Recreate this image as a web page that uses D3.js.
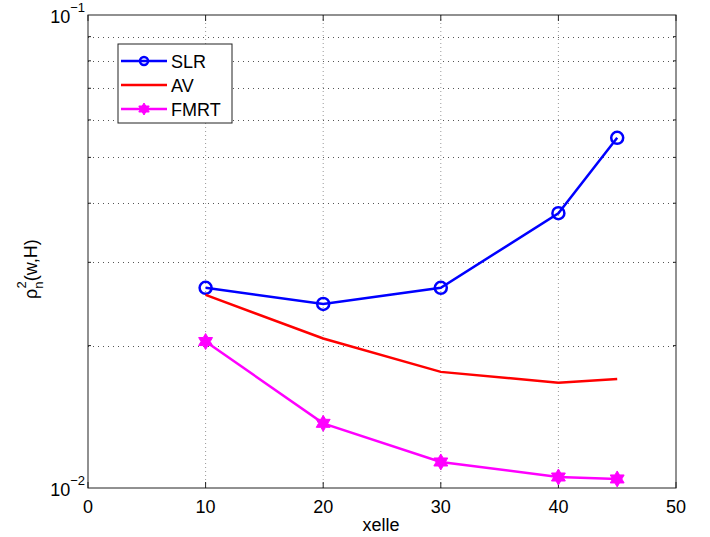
<!DOCTYPE html>
<html>
<head>
<meta charset="utf-8">
<script src="https://cdn.jsdelivr.net/npm/d3@7"></script>
<style>
  body { margin: 0; background: #fff; }
  text { font-family: "Liberation Sans", Arial, sans-serif; fill: #000; }
</style>
</head>
<body>
<div id="chart"></div>
<script>
// data
const xValues = [10, 20, 30, 40, 45];
const slr = [0.0265, 0.0245, 0.0265, 0.0381, 0.0550];
const av = [0.0256, 0.0207, 0.0176, 0.0167, 0.0170];
const fmrt = [0.0204, 0.0137, 0.01135, 0.01055, 0.01045];
const xTicks = [0, 10, 20, 30, 40, 50];
const yDecades = [0.01, 0.1];
const yMinor = [0.02, 0.03, 0.04, 0.05, 0.06, 0.07, 0.08, 0.09];

const W = 710, H = 537;
const margin = {top: 15, right: 34, bottom: 49, left: 88},
    width = W - margin.left - margin.right,
    height = H - margin.top - margin.bottom;

const svg = d3.select("#chart")
  .append("svg")
    .attr("width", W)
    .attr("height", H)
  .append("g")
    .attr("transform", "translate(" + margin.left + "," + margin.top + ")");

const x = d3.scaleLinear().domain([0, 50]).range([0, width]);
const y = d3.scaleLog().domain([0.01, 0.1]).range([height, 0]);

// grid
svg.selectAll(".gx").data(xTicks.slice(1, -1)).enter().append("line")
  .attr("x1", d => x(d)).attr("x2", d => x(d))
  .attr("y1", 0).attr("y2", height)
  .attr("stroke", "#999").attr("stroke-width", 1).attr("stroke-dasharray", "1,3");
svg.selectAll(".gy").data(yMinor).enter().append("line")
  .attr("x1", 0).attr("x2", width)
  .attr("y1", d => Math.round(y(d)) + 0.5).attr("y2", d => Math.round(y(d)) + 0.5)
  .attr("stroke", "#555").attr("stroke-width", 1).attr("stroke-dasharray", "1,4");

// frame
svg.append("rect")
  .attr("x", 0).attr("y", 0).attr("width", width).attr("height", height)
  .attr("fill", "none").attr("stroke", "#222").attr("stroke-width", 1);

// tick marks inside, all four sides
xTicks.forEach(t => {
  svg.append("line").attr("x1", x(t)).attr("x2", x(t)).attr("y1", height).attr("y2", height - 6).attr("stroke", "#222");
  svg.append("line").attr("x1", x(t)).attr("x2", x(t)).attr("y1", 0).attr("y2", 6).attr("stroke", "#222");
});
yMinor.forEach(t => {
  svg.append("line").attr("x1", 0).attr("x2", 3).attr("y1", y(t)).attr("y2", y(t)).attr("stroke", "#222");
  svg.append("line").attr("x1", width).attr("x2", width - 3).attr("y1", y(t)).attr("y2", y(t)).attr("stroke", "#222");
});

// tick labels
svg.selectAll(".xl").data(xTicks).enter().append("text")
  .attr("x", d => x(d)).attr("y", height + 25)
  .attr("text-anchor", "middle").style("font-size", "18px")
  .text(d => d);

yDecades.forEach(d => {
  const t = svg.append("text")
    .attr("x", -3).attr("y", y(d) + 8)
    .attr("text-anchor", "end").style("font-size", "18px");
  t.append("tspan").text("10");
  t.append("tspan").attr("dy", -11).style("font-size", "13px")
    .text("\u2212" + Math.round(-Math.log10(d)));
});

// axis labels
svg.append("text")
  .attr("x", width / 2 - 1).attr("y", height + 43)
  .attr("text-anchor", "middle").style("font-size", "18px")
  .text("xelle");

const yl = svg.append("text")
  .attr("transform", "translate(-51,284) rotate(-90)")
  .attr("text-anchor", "start").style("font-size", "18px");
yl.append("tspan").text("\u03c1");
yl.append("tspan").attr("dy", 6).style("font-size", "13px").text("n");
yl.append("tspan").attr("dx", -7).attr("dy", -17).style("font-size", "13px").text("2");
yl.append("tspan").attr("dy", 11).text("(w,H)");

// series
const line = d3.line().x(d => x(d[0])).y(d => y(d[1]));
const series = [
  {name: "SLR", values: slr, color: "#0000ff", marker: "circle"},
  {name: "AV", values: av, color: "#ff0000", marker: null},
  {name: "FMRT", values: fmrt, color: "#ff00ff", marker: "star"}
];

function hexagram(r) {
  const pts = [];
  for (let i = 0; i < 12; i++) {
    const a = -Math.PI / 2 + i * Math.PI / 6;
    const rr = i % 2 === 0 ? r : r * 0.58;
    pts.push([rr * Math.cos(a), rr * Math.sin(a)]);
  }
  return "M" + pts.map(p => p.join(",")).join("L") + "Z";
}

function drawMarker(g, s, cx, cy, r) {
  if (s.marker === "circle") {
    g.append("circle").attr("cx", cx).attr("cy", cy).attr("r", r)
      .attr("fill", "none").attr("stroke", s.color).attr("stroke-width", 2.5);
  } else if (s.marker === "star") {
    g.append("path").attr("d", hexagram(r + 2))
      .attr("transform", "translate(" + cx + "," + cy + ")")
      .attr("fill", s.color).attr("stroke", s.color).attr("stroke-width", 1);
  }
}

series.forEach(s => {
  const pts = xValues.map((v, i) => [v, s.values[i]]);
  svg.append("path").datum(pts)
    .attr("d", line).attr("fill", "none")
    .attr("stroke", s.color).attr("stroke-width", 2.5);
  pts.forEach(p => drawMarker(svg, s, x(p[0]), y(p[1]), 6));
});

// legend
const lg = svg.append("g").attr("transform", "translate(30,29)");
lg.append("rect").attr("width", 114).attr("height", 79)
  .attr("fill", "#fff").attr("stroke", "#222").attr("stroke-width", 1);
series.forEach((s, i) => {
  const yy = 17 + i * 24;
  lg.append("line").attr("x1", 3).attr("x2", 49).attr("y1", yy).attr("y2", yy)
    .attr("stroke", s.color).attr("stroke-width", 2.5);
  drawMarker(lg, s, 26, yy, 4);
  lg.append("text").attr("x", 53).attr("y", yy + 7).style("font-size", "18px").text(s.name);
});
</script>
</body>
</html>
